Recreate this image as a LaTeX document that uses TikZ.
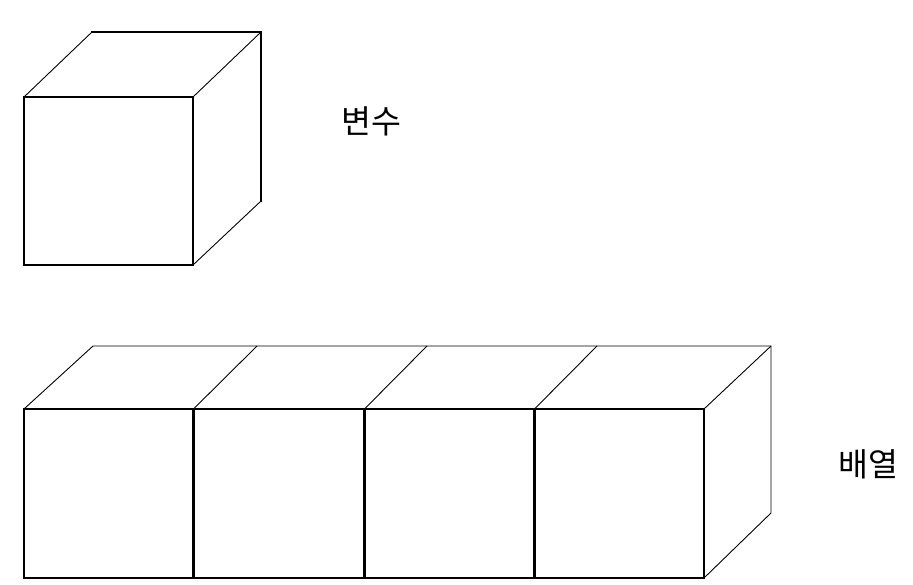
\documentclass[tikz,border=0pt]{standalone}
\usepackage{fontspec}
\newfontfamily\kr{Noto Sans CJK KR}
\begin{document}
\begin{tikzpicture}[x=1pt,y=-1pt,
  thick edge/.style={line width=2pt,line cap=rect},
  divider/.style={line width=3pt},
  thin edge/.style={line width=0.9pt},
  lbl/.style={font=\kr\fontsize{32.5}{38}\selectfont,inner sep=0pt}]
\useasboundingbox (0,0) rectangle (913,585);
% top cube
\coordinate (a1) at (24,97);
\coordinate (a2) at (193,97);
\coordinate (a3) at (193,265);
\coordinate (a4) at (24,265);
\coordinate (b1) at (92,32);
\coordinate (b2) at (261,32);
\coordinate (b3) at (261,201);
\draw[thin edge] (a1) -- (b1);
\draw[thin edge] (a2) -- (b2);
\draw[thin edge] (a3) -- (b3);
\draw[thick edge] (b1) -- (b2) -- (b3);
\draw[thick edge] (a1) rectangle (a3);
\node[lbl] (var) at (371.5,121.5) {변수};
% array
\coordinate (f0) at (24,409);
\coordinate (f1) at (193.5,409);
\coordinate (f2) at (364.5,409);
\coordinate (f3) at (534.5,409);
\coordinate (f4) at (704,409);
\coordinate (g0) at (24,578);
\coordinate (g1) at (193.5,578);
\coordinate (g2) at (364.5,578);
\coordinate (g3) at (534.5,578);
\coordinate (g4) at (704,578);
\coordinate (h0) at (93,346);
\coordinate (h1) at (257,346);
\coordinate (h2) at (427,346);
\coordinate (h3) at (597,346);
\coordinate (h4) at (771,346);
\coordinate (k4) at (771,513);
\draw[thin edge] (f0) -- (h0);
\draw[thin edge] (f1) -- (h1);
\draw[thin edge] (f2) -- (h2);
\draw[thin edge] (f3) -- (h3);
\draw[thin edge] (f4) -- (h4);
\draw[thin edge] (h0) -- (h4) -- (k4) -- (g4);
\draw[thick edge] (f0) rectangle (g4);
\draw[divider] (f1) -- (g1);
\draw[divider] (f2) -- (g2);
\draw[divider] (f3) -- (g3);
\node[lbl] (arr) at (868,464.5) {배열};
\end{tikzpicture}
\end{document}
